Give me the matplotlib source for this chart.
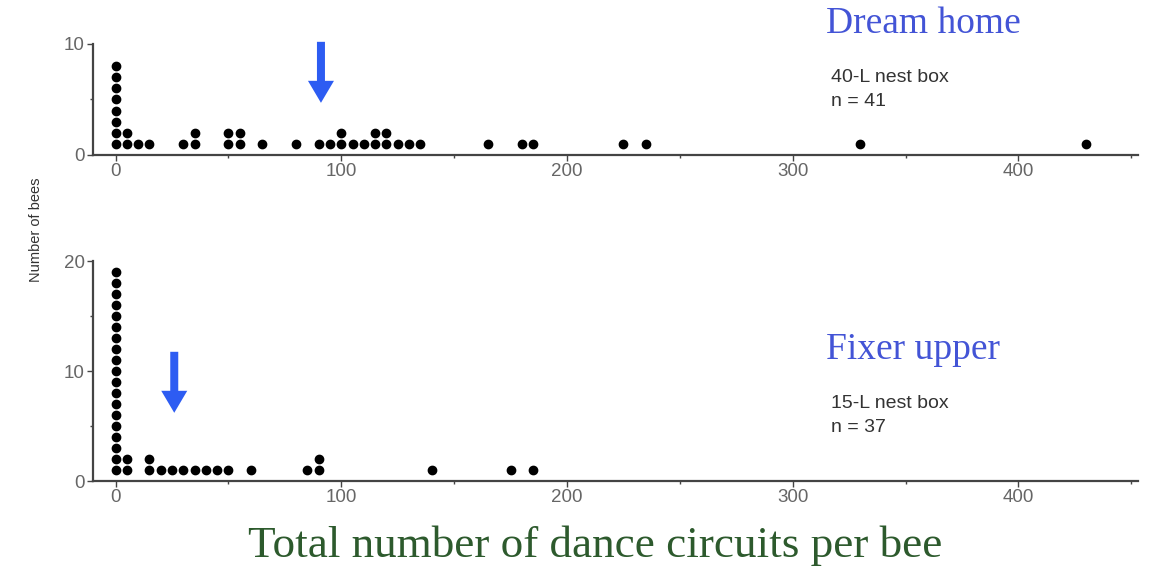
import matplotlib
matplotlib.use("Agg")
import matplotlib.pyplot as plt
from matplotlib.patches import Polygon
from matplotlib.transforms import ScaledTranslation
from matplotlib.ticker import MultipleLocator

# ---- data ----
top_values = [0, 5, 10, 15, 30, 35, 50, 55, 65, 80, 90, 95, 100, 105, 110, 115,
              120, 125, 130, 135, 165, 180, 185, 225, 235, 330, 430]
top_counts = [8, 2, 1, 1, 1, 2, 2, 2, 1, 1, 1, 1, 2, 1, 1, 2,
              2, 1, 1, 1, 1, 1, 1, 1, 1, 1, 1]
bottom_values = [0, 5, 15, 20, 25, 30, 35, 40, 45, 50, 60, 85, 90, 140, 175, 185]
bottom_counts = [19, 2, 2, 1, 1, 1, 1, 1, 1, 1, 1, 1, 2, 1, 1, 1]
top_mean = 91
bottom_mean = 26
x_ticks = [0, 100, 200, 300, 400]

titles = ["Dream home", "Fixer upper"]
box_labels = ["40-L nest box", "15-L nest box"]
n_labels = ["n = 41", "n = 37"]

W, H = 1158, 566
fig = plt.figure(figsize=(W / 100, H / 100), dpi=100)
fig.patch.set_facecolor("white")

ax_top = fig.add_axes([93 / W, 1 - 155 / H, (1138 - 93) / W, (155 - 44) / H])
ax_bot = fig.add_axes([93 / W, 1 - 481 / H, (1138 - 93) / W, (481 - 261) / H])

spine_col = "#444444"
tick_col = "#666666"


def stack(values, counts):
    xs, ys = [], []
    for v, c in zip(values, counts):
        for k in range(1, c + 1):
            xs.append(v)
            ys.append(k)
    return xs, ys


def style(ax, ymax):
    ax.set_xlim(-10, 453)
    ax.set_ylim(0, ymax)
    for s in ["top", "right"]:
        ax.spines[s].set_visible(False)
    for s in ["left", "bottom"]:
        ax.spines[s].set_color(spine_col)
        ax.spines[s].set_linewidth(1.6)
    ax.set_xticks(x_ticks)
    ax.xaxis.set_minor_locator(MultipleLocator(50))
    ax.set_yticks([0, 10] if ymax == 10 else [0, 10, 20])
    ax.yaxis.set_minor_locator(MultipleLocator(5))
    ax.tick_params(axis="both", which="major", length=4, width=1, color=spine_col,
                   labelsize=13.5, labelcolor=tick_col, pad=2,
                   labelfontfamily="Liberation Sans")
    ax.tick_params(axis="both", which="minor", length=2.5, width=1, color=spine_col)
    ax.patch.set_alpha(0)


def arrow(ax, x, y, color="#2D5CF2"):
    px = [(-4, 61), (4, 61), (4, 22), (13, 22), (0, 0), (-13, 22), (-4, 22)]
    verts = [(a / 100, b / 100) for a, b in px]
    tr = fig.dpi_scale_trans + ScaledTranslation(x, y, ax.transData)
    ax.add_patch(Polygon(verts, closed=True, facecolor=color, edgecolor="none",
                         transform=tr, clip_on=False))


xs, ys = stack(top_values, top_counts)
ax_top.plot(xs, ys, "o", color="black", markersize=6, clip_on=False)
style(ax_top, 10)
arrow(ax_top, top_mean, 4.7)

xs, ys = stack(bottom_values, bottom_counts)
ax_bot.plot(xs, ys, "o", color="black", markersize=6, clip_on=False)
style(ax_bot, 20)
arrow(ax_bot, bottom_mean, 6.2)

title_col = "#4354D6"
for title, box, n, yb in zip(titles, box_labels, n_labels, [33, 359]):
    fig.text(826 / W, 1 - yb / H, title, fontsize=27, family="Liberation Serif",
             color=title_col, va="baseline", ha="left")
    fig.text(831 / W, 1 - (yb + 49) / H, box, fontsize=14, family="Liberation Sans",
             color="#333333", va="baseline", ha="left")
    fig.text(831 / W, 1 - (yb + 73) / H, n, fontsize=14, family="Liberation Sans",
             color="#333333", va="baseline", ha="left")

fig.text(36 / W, 1 - 230 / H, "Number of bees", fontsize=10.5, family="Liberation Sans",
         color="#333333", rotation=90, va="center", ha="center")
fig.text(595 / W, 1 - 557 / H, "Total number of dance circuits per bee", fontsize=32.5,
         family="Liberation Serif", color="#2D5A2D", va="baseline", ha="center")

fig.savefig("out.png", dpi=100, facecolor="white")
